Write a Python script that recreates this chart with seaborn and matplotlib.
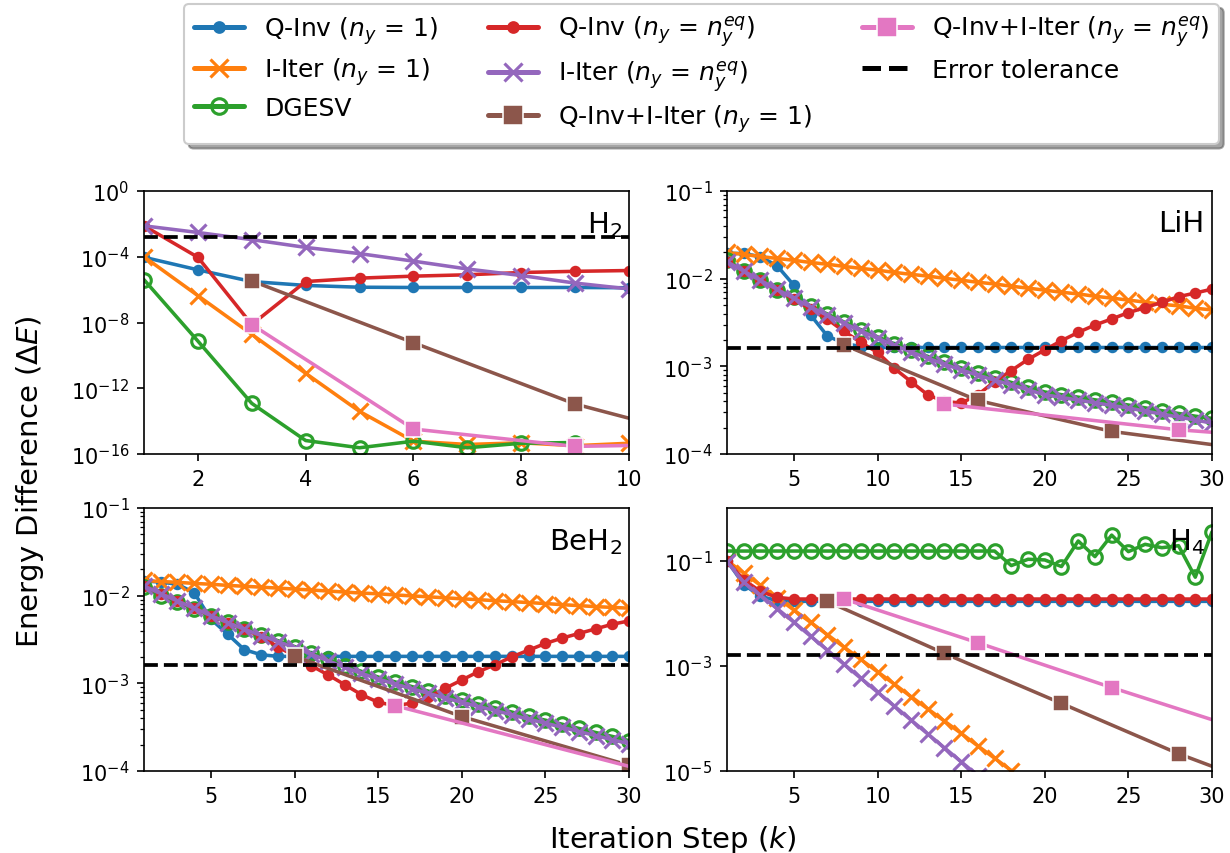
import numpy as np
import matplotlib
matplotlib.use("Agg")
import matplotlib.pyplot as plt
import matplotlib.ticker as mticker
import seaborn as sns

# ---------------- data ----------------
TOL = 1.6e-3

# H2 (k = 1..10)
h2_x = [1, 2, 3, 4, 5, 6, 7, 8, 9, 10]
h2_qinv1 = [9.3e-5, 1.6e-5, 3.1e-6, 1.8e-6, 1.4e-6, 1.35e-6, 1.35e-6, 1.35e-6, 1.35e-6, 1.3e-6]
h2_iiter1 = [1e-4, 4.3e-7, 1.9e-9, 8.1e-12, 3.9e-14, 6e-16, 3.8e-16, 4.8e-16, 3.2e-16, 4.5e-16]
h2_dgesv_x = [1, 2, 3, 4, 5, 6, 7, 8, 9]
h2_dgesv = [4e-6, 7.4e-10, 1.2e-13, 6.6e-16, 2.4e-16, 6e-16, 2.4e-16, 4.5e-16, 5e-16]
h2_qinveq = [7.6e-3, 9.3e-5, 7.5e-9, 3.1e-6, 5e-6, 6.6e-6, 8e-6, 1.1e-5, 1.3e-5, 1.45e-5]
h2_iitereq = [7.6e-3, 3e-3, 1.1e-3, 3.7e-4, 1.55e-4, 5.4e-5, 1.8e-5, 7.2e-6, 2.5e-6, 1.1e-6]
h2_hyb1_x = [3, 6, 9, 10]
h2_hyb1 = [3.4e-6, 5.9e-10, 1.1e-13, 1.5e-14]
h2_hyb1_mk = [0, 1, 2]
h2_hybeq_x = [3, 6, 9, 10]
h2_hybeq = [7.5e-9, 3.3e-15, 2.9e-16, 3.3e-16]
h2_hybeq_mk = [0, 1, 2]

# LiH (k = 1..30)
k30 = list(range(1, 31))
lih_qinv1 = [1.94e-2, 1.94e-2, 1.78e-2, 1.40e-2, 8.4e-3, 3.85e-3, 2.22e-3, 1.83e-3, 1.68e-3,
             1.64e-3, 1.64e-3, 1.64e-3, 1.64e-3, 1.64e-3, 1.64e-3, 1.64e-3, 1.64e-3, 1.64e-3,
             1.64e-3, 1.64e-3, 1.64e-3, 1.64e-3, 1.64e-3, 1.64e-3, 1.64e-3, 1.64e-3, 1.64e-3,
             1.64e-3, 1.64e-3, 1.64e-3]
lih_iiter1 = [1.99e-2, 1.89e-2, 1.79e-2, 1.70e-2, 1.62e-2, 1.53e-2, 1.46e-2, 1.38e-2, 1.31e-2,
              1.25e-2, 1.18e-2, 1.12e-2, 1.07e-2, 1.01e-2, 9.6e-3, 9.1e-3, 8.7e-3, 8.2e-3,
              7.8e-3, 7.4e-3, 7.0e-3, 6.7e-3, 6.3e-3, 6.0e-3, 5.7e-3, 5.4e-3, 5.1e-3, 4.9e-3,
              4.6e-3, 4.4e-3]
lih_dgesv = [1.65e-2, 1.22e-2, 9.6e-3, 7.5e-3, 6.1e-3, 4.9e-3, 3.95e-3, 3.2e-3, 2.62e-3,
             2.17e-3, 1.81e-3, 1.53e-3, 1.30e-3, 1.11e-3, 9.6e-4, 8.4e-4, 7.4e-4, 6.55e-4,
             5.8e-4, 5.1e-4, 4.75e-4, 4.45e-4, 4.15e-4, 3.88e-4, 3.62e-4, 3.36e-4, 3.12e-4,
             2.9e-4, 2.7e-4, 2.55e-4]
lih_qinveq = [1.56e-2, 1.22e-2, 9.55e-3, 7.4e-3, 5.8e-3, 4.5e-3, 3.45e-3, 2.5e-3, 1.88e-3,
              1.44e-3, 9.5e-4, 6.7e-4, 4.73e-4, 3.98e-4, 3.81e-4, 4.73e-4, 6.7e-4, 8.95e-4,
              1.20e-3, 1.54e-3, 1.96e-3, 2.44e-3, 2.96e-3, 3.47e-3, 4.10e-3, 4.67e-3, 5.37e-3,
              6.23e-3, 6.86e-3, 7.6e-3]
lih_iitereq = [1.557e-2, 1.219e-2, 9.55e-3, 7.54e-3, 5.96e-3, 4.75e-3, 3.82e-3, 3.10e-3,
               2.53e-3, 2.09e-3, 1.74e-3, 1.46e-3, 1.24e-3, 1.057e-3, 9.11e-4, 7.93e-4,
               6.95e-4, 6.15e-4, 5.40e-4, 4.74e-4, 4.42e-4, 4.12e-4, 3.84e-4, 3.58e-4,
               3.34e-4, 3.09e-4, 2.85e-4, 2.64e-4, 2.44e-4, 2.25e-4]
lih_hyb1_x = [8, 16, 24, 30]
lih_hyb1 = [1.75e-3, 4.08e-4, 1.81e-4, 1.28e-4]
lih_hyb1_mk = [0, 1, 2]
lih_hybeq_x = [14, 28, 30]
lih_hybeq = [3.71e-4, 1.89e-4, 1.77e-4]
lih_hybeq_mk = [0, 1]

# BeH2 (k = 1..30)
beh2_qinv1 = [1.47e-2, 1.43e-2, 1.35e-2, 1.08e-2, 5.4e-3, 3.64e-3, 2.42e-3, 2.12e-3,
              2.03e-3, 2.03e-3, 2.03e-3, 2.03e-3, 2.03e-3, 2.03e-3, 2.03e-3, 2.03e-3,
              2.03e-3, 2.03e-3, 2.03e-3, 2.03e-3, 2.03e-3, 2.03e-3, 2.03e-3, 2.03e-3,
              2.03e-3, 2.03e-3, 2.03e-3, 2.03e-3, 2.03e-3, 2.03e-3]
beh2_iiter1 = [1.49e-2, 1.45e-2, 1.42e-2, 1.38e-2, 1.35e-2, 1.31e-2, 1.28e-2, 1.25e-2,
               1.22e-2, 1.19e-2, 1.16e-2, 1.13e-2, 1.10e-2, 1.07e-2, 1.05e-2, 1.02e-2,
               9.95e-3, 9.7e-3, 9.46e-3, 9.2e-3, 9.0e-3, 8.77e-3, 8.55e-3, 8.34e-3,
               8.13e-3, 7.9e-3, 7.7e-3, 7.5e-3, 7.35e-3, 7.2e-3]
beh2_dgesv = [1.24e-2, 1.0e-2, 8.5e-3, 7.0e-3, 5.9e-3, 4.95e-3, 4.2e-3, 3.58e-3, 3.07e-3,
              2.63e-3, 2.22e-3, 1.88e-3, 1.59e-3, 1.37e-3, 1.18e-3, 1.04e-3, 9.2e-4, 8.15e-4,
              7.25e-4, 6.5e-4, 5.8e-4, 5.25e-4, 4.7e-4, 4.2e-4, 3.8e-4, 3.42e-4, 3.06e-4,
              2.75e-4, 2.48e-4, 2.22e-4]
beh2_qinveq = [1.29e-2, 1.054e-2, 8.7e-3, 7.18e-3, 5.93e-3, 4.93e-3, 4.14e-3, 3.42e-3,
               2.61e-3, 2.06e-3, 1.59e-3, 1.25e-3, 9.66e-4, 7.43e-4, 6.08e-4, 5.57e-4,
               5.93e-4, 6.93e-4, 8.77e-4, 1.09e-3, 1.36e-3, 1.63e-3, 2.01e-3, 2.39e-3,
               2.85e-3, 3.28e-3, 3.70e-3, 4.18e-3, 4.72e-3, 5.15e-3]
beh2_iitereq = [1.29e-2, 1.054e-2, 8.70e-3, 7.18e-3, 5.93e-3, 4.93e-3, 4.14e-3, 3.51e-3,
                3.00e-3, 2.56e-3, 2.15e-3, 1.81e-3, 1.52e-3, 1.30e-3, 1.12e-3, 9.83e-4,
                8.69e-4, 7.69e-4, 6.81e-4, 6.08e-4, 5.43e-4, 4.89e-4, 4.37e-4, 3.90e-4,
                3.51e-4, 3.16e-4, 2.82e-4, 2.54e-4, 2.27e-4, 2.05e-4]
beh2_hyb1_x = [10, 20, 30]
beh2_hyb1 = [2.03e-3, 4.18e-4, 1.16e-4]
beh2_hyb1_mk = [0, 1, 2]
beh2_hybeq_x = [16, 30]
beh2_hybeq = [5.57e-4, 1.13e-4]
beh2_hybeq_mk = [0]

# H4 (k = 1..30)
h4_qinv1 = [0.1, 0.035, 0.021, 0.0173, 0.0168, 0.0168, 0.0168, 0.0168, 0.0168, 0.0168,
            0.0168, 0.0168, 0.0168, 0.0168, 0.0168, 0.0168, 0.0168, 0.0168, 0.0168, 0.0168,
            0.0168, 0.0168, 0.0168, 0.0168, 0.0168, 0.0168, 0.0168, 0.0168, 0.0168, 0.0168]
h4_iiter1_x = list(range(1, 20))
h4_iiter1 = [0.1, 0.058, 0.034, 0.0197, 0.0115, 6.7e-3, 3.9e-3, 2.27e-3, 1.32e-3, 7.7e-4,
             4.5e-4, 2.6e-4, 1.52e-4, 8.9e-5, 5.2e-5, 3.0e-5, 1.75e-5, 1.02e-5, 5.9e-6]
h4_dgesv = [0.152, 0.152, 0.152, 0.152, 0.152, 0.152, 0.152, 0.152, 0.152, 0.152,
            0.152, 0.152, 0.152, 0.152, 0.152, 0.152, 0.152, 0.0804, 0.106, 0.103,
            0.0771, 0.236, 0.119, 0.305, 0.148, 0.204, 0.176, 0.192, 0.0484, 0.353]
h4_qinveq = [0.1, 0.043, 0.026, 0.020, 0.0186, 0.0186, 0.0186, 0.0186, 0.0186, 0.0186,
             0.0186, 0.0186, 0.0186, 0.0186, 0.0186, 0.0186, 0.0186, 0.0186, 0.0186, 0.0186,
             0.0186, 0.0186, 0.0186, 0.0186, 0.0186, 0.0186, 0.0186, 0.0186, 0.0186, 0.0186]
h4_iitereq_x = list(range(1, 17))
h4_iitereq = [0.0957, 0.0384, 0.0218, 0.0122, 6.74e-3, 3.66e-3, 1.99e-3, 1.07e-3, 5.81e-4,
              3.16e-4, 1.72e-4, 9.34e-5, 5.08e-5, 2.76e-5, 1.50e-5, 8.16e-6]
h4_hyb1_x = [7, 14, 21, 28, 30]
h4_hyb1 = [0.0168, 1.72e-3, 1.93e-4, 2.13e-5, 1.23e-5]
h4_hyb1_mk = [0, 1, 2, 3]
h4_hybeq_x = [8, 16, 24, 30]
h4_hybeq = [0.0186, 2.74e-3, 3.86e-4, 9.46e-5]
h4_hybeq_mk = [0, 1, 2]

labels = ["Q-Inv ($n_y$ = 1)", "I-Iter ($n_y$ = 1)", "DGESV",
          "Q-Inv ($n_y$ = $n_y^{eq}$)", "I-Iter ($n_y$ = $n_y^{eq}$)",
          "Q-Inv+I-Iter ($n_y$ = 1)", "Q-Inv+I-Iter ($n_y$ = $n_y^{eq}$)",
          "Error tolerance"]
mol_names = ["H$_2$", "LiH", "BeH$_2$", "H$_4$"]

panels = [
    dict(qinv1=(h2_x, h2_qinv1), iiter1=(h2_x, h2_iiter1), dgesv=(h2_dgesv_x, h2_dgesv),
         qinveq=(h2_x, h2_qinveq), iitereq=(h2_x, h2_iitereq),
         hyb1=(h2_hyb1_x, h2_hyb1, h2_hyb1_mk), hybeq=(h2_hybeq_x, h2_hybeq, h2_hybeq_mk),
         xlim=(1, 10), xticks=[2, 4, 6, 8, 10], ylim=(1e-16, 1e0),
         yticks=[1e-16, 1e-12, 1e-8, 1e-4, 1e0], minor=False),
    dict(qinv1=(k30, lih_qinv1), iiter1=(k30, lih_iiter1), dgesv=(k30, lih_dgesv),
         qinveq=(k30, lih_qinveq), iitereq=(k30, lih_iitereq),
         hyb1=(lih_hyb1_x, lih_hyb1, lih_hyb1_mk), hybeq=(lih_hybeq_x, lih_hybeq, lih_hybeq_mk),
         xlim=(1, 30), xticks=[5, 10, 15, 20, 25, 30], ylim=(1e-4, 1e-1),
         yticks=[1e-4, 1e-3, 1e-2, 1e-1], minor=True),
    dict(qinv1=(k30, beh2_qinv1), iiter1=(k30, beh2_iiter1), dgesv=(k30, beh2_dgesv),
         qinveq=(k30, beh2_qinveq), iitereq=(k30, beh2_iitereq),
         hyb1=(beh2_hyb1_x, beh2_hyb1, beh2_hyb1_mk), hybeq=(beh2_hybeq_x, beh2_hybeq, beh2_hybeq_mk),
         xlim=(1, 30), xticks=[5, 10, 15, 20, 25, 30], ylim=(1e-4, 1e-1),
         yticks=[1e-4, 1e-3, 1e-2, 1e-1], minor=True),
    dict(qinv1=(k30, h4_qinv1), iiter1=(h4_iiter1_x, h4_iiter1), dgesv=(k30, h4_dgesv),
         qinveq=(k30, h4_qinveq), iitereq=(h4_iitereq_x, h4_iitereq),
         hyb1=(h4_hyb1_x, h4_hyb1, h4_hyb1_mk), hybeq=(h4_hybeq_x, h4_hybeq, h4_hybeq_mk),
         xlim=(1, 30), xticks=[5, 10, 15, 20, 25, 30], ylim=(1e-5, 1e0),
         yticks=[1e-5, 1e-3, 1e-1], minor=False),
]

# ---------------- style ----------------
sns.set_style("ticks")
plt.rcParams.update({
    "font.family": ["DejaVu Sans"],
    "axes.edgecolor": "black", "xtick.color": "black", "ytick.color": "black",
    "text.color": "black", "axes.labelcolor": "black",
    "axes.linewidth": 0.8, "xtick.labelsize": 10, "ytick.labelsize": 10,
    "xtick.major.size": 3.5, "ytick.major.size": 3.5,
    "ytick.minor.size": 2.0, "xtick.major.width": 0.8, "ytick.major.width": 0.8,
    "ytick.minor.width": 0.6,
})

C = {"blue": "#1f77b4", "orange": "#ff7f0e", "green": "#2ca02c", "red": "#d62728",
     "purple": "#9467bd", "brown": "#8c564b", "pink": "#e377c2"}

fig = plt.figure(figsize=(8.2, 8.54 / 1.5), dpi=150)
W, H = 1230.0, 854.0
boxes = [(144, 192, 629, 455), (727, 192, 1212, 455), (144, 509, 629, 772), (727, 509, 1212, 772)]
axes = [fig.add_axes([l / W, 1 - b / H, (r - l) / W, (b - t) / H]) for (l, t, r, b) in boxes]

LW = 1.7


def draw(ax, xs, ys, color, marker, ms, label, mfc=None, mec=None, mew=1.5, markevery=None, lw=LW):
    kw = dict(x=xs, y=ys, ax=ax, color=color, marker=marker, markersize=ms,
              markeredgewidth=mew, markeredgecolor=mec if mec is not None else color,
              markerfacecolor=mfc if mfc is not None else color,
              linewidth=lw, label=label, legend=False, sort=False, estimator=None)
    if markevery is not None:
        kw["markevery"] = markevery
    sns.lineplot(**kw)


for i, (ax, p) in enumerate(zip(axes, panels)):
    ax.set_yscale("log")
    draw(ax, *p["qinv1"], C["blue"], "o", 4, labels[0])
    draw(ax, *p["iiter1"], C["orange"], "x", 7.5, labels[1])
    draw(ax, *p["dgesv"], C["green"], "o", 6.5, labels[2], mfc="none")
    draw(ax, *p["qinveq"], C["red"], "o", 4, labels[3])
    draw(ax, *p["iitereq"], C["purple"], "x", 7.5, labels[4])
    hx, hy, hm = p["hyb1"]
    draw(ax, hx, hy, C["brown"], "s", 8, labels[5], mec="white", mew=0.75, markevery=hm)
    hx, hy, hm = p["hybeq"]
    draw(ax, hx, hy, C["pink"], "s", 8, labels[6], mec="white", mew=0.75, markevery=hm)
    ax.axhline(TOL, color="black", linestyle="--", linewidth=1.8, label=labels[7])

    ax.set_xlim(*p["xlim"])
    ax.set_ylim(*p["ylim"])
    ax.set_xticks(p["xticks"])
    ax.set_yticks(p["yticks"])
    if not p["minor"]:
        ax.yaxis.set_minor_locator(mticker.NullLocator())
    else:
        ax.yaxis.set_minor_locator(mticker.LogLocator(base=10, subs=np.arange(2, 10)))
        ax.yaxis.set_minor_formatter(mticker.NullFormatter())
    ax.set_xlabel("")
    ax.set_ylabel("")
    ax.text(0.985, 0.93, mol_names[i], transform=ax.transAxes, ha="right", va="top", fontsize=14)
    if ax.get_legend() is not None:
        ax.get_legend().remove()

handles, labs = axes[0].get_legend_handles_labels()
leg = fig.legend(handles, labs, loc="upper center", bbox_to_anchor=(0.5707, 0.999), ncol=3,
                 fontsize=12, shadow=True, frameon=True, borderaxespad=0.15, markerscale=1.15,
                 labelspacing=0.36)
for h in leg.legend_handles:
    h.set_linewidth(2.4)

fig.text(0.547, 1 - 848 / H, "Iteration Step ($k$)", ha="center", va="baseline", fontsize=14)
fig.text(0.024, 1 - 482 / H, "Energy Difference ($\\Delta E$)", ha="center", va="center",
         rotation=90, fontsize=14)

fig.savefig("out.png", dpi=150)
